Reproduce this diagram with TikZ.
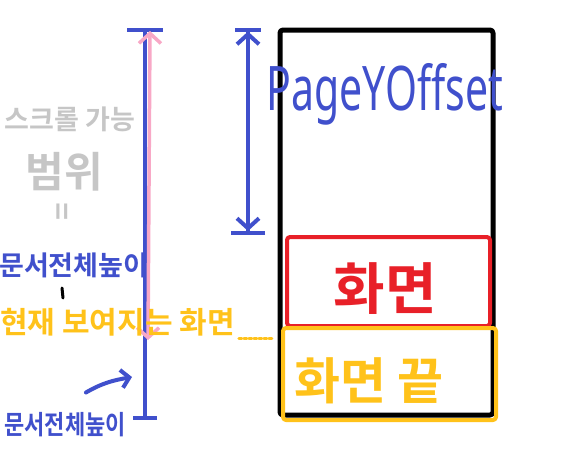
\documentclass[tikz,border=0pt]{standalone}
\usepackage{fontspec}
\newfontfamily\kofont{Noto Sans CJK KR}[BoldFont={Noto Sans CJK KR Bold}]
\setmainfont{Noto Sans}
\usetikzlibrary{arrows.meta, positioning}
\definecolor{penblue}{HTML}{4050CC}
\definecolor{penpink}{HTML}{F8A8C6}
\definecolor{pengray}{HTML}{C6C6C6}
\definecolor{penred}{HTML}{E82028}
\definecolor{penyellow}{HTML}{FFC21A}

\begin{document}
\begin{tikzpicture}[
    x=1pt, y=-1pt,
    pen/.style={line width=4pt, line cap=round, line join=round},
    box/.style={pen, rounded corners=3pt, inner sep=0pt},
    lbl/.style={inner sep=0pt, font=\kofont\bfseries},
]
\useasboundingbox (0,0) rectangle (583,453);

% page and screen boxes
\node[box, draw=black, line width=5pt, minimum width=213pt, minimum height=385pt] (page) at (386.5,222.5) {};
\node[box, draw=penred, minimum width=203pt, minimum height=89pt] (screen) at (388.5,281.5) {};
\node[lbl, text=penred, font=\kofont\bfseries\fontsize{56}{64}\selectfont] (scrlbl) at (385,289) {화면};
\node[box, draw=penyellow, minimum width=213pt, minimum height=92pt] (screenend) at (389.5,374) {};
\node[lbl, text=penyellow, font=\kofont\bfseries\fontsize{50}{58}\selectfont] (endlbl) at (369,381) {화면 끝};
\node[lbl, text=penblue, font=\bfseries\fontsize{41}{48}\selectfont, yscale=1.5] (offlbl) at (385,94) {PageYOffset};

% pageYOffset arrow
\coordinate (offx) at (248,0);
\draw[pen, penblue, {Bar[width=26pt, line width=4pt] Straight Barb[length=10pt, width=22pt, line width=4pt, sep=0pt]}-{Straight Barb[length=10pt, width=22pt, line width=4pt, sep=0pt] Bar[width=34pt, line width=4pt]}]
    (page.north west -| offx) -- (screen.north west -| offx);

% scroll range line
\coordinate (scrtop) at (145,28);
\coordinate (scrbot) at (145,420);
\draw[pen, penblue, {Bar[width=36pt, line width=4pt]}-{Bar[width=24pt, line width=4pt]}] (scrtop) -- (scrbot);
\coordinate (viewtop) at (150,31);
\coordinate (viewbot) at (148,340);
\draw[pen, penpink, line width=3.5pt, {Straight Barb[length=10pt, width=22pt, line width=3.5pt]}-{Straight Barb[length=10pt, width=22pt, line width=3.5pt]}] (viewbot) -- (viewtop);

% labels on the left
\node[lbl, text=pengray, font=\kofont\bfseries\fontsize{27}{32}\selectfont] (scroll) at (70,119) {스크롤 가능};
\node[lbl, text=pengray, font=\kofont\bfseries\fontsize{42}{48}\selectfont] (range) at (64,172) {범위};
\node[lbl, text=pengray, font=\kofont\bfseries\fontsize{30}{34}\selectfont, rotate=90] (equal) at (65,212) {=};
\node[lbl, text=penblue, font=\kofont\bfseries\fontsize{27}{32}\selectfont, anchor=west] (fullh) at (-1,265) {문서전체높이};
\node[lbl, text=penyellow, font=\kofont\bfseries\fontsize{30}{36}\selectfont, anchor=west] (now) at (0,322) {현재 보여지는 화면};
\node[lbl, text=penblue, font=\kofont\bfseries\fontsize{22}{26}\selectfont, yscale=1.2] (fullh2) at (65,425) {문서전체높이};

\draw[line width=3pt, line cap=round, black] (62,288) -- (63,298);
\coordinate (dotend) at (272,338);
\draw[penyellow, line width=3pt, dotted, line cap=round] (now.east |- dotend) ++(4,0) -- (dotend);
\coordinate (pointer) at (132,377);
\draw[pen, penblue, -{Straight Barb[length=8pt, width=18pt, line width=4pt]}]
    (fullh2.north east) ++(-40,-20) to[out=30, in=190] (pointer);
\end{tikzpicture}
\end{document}
